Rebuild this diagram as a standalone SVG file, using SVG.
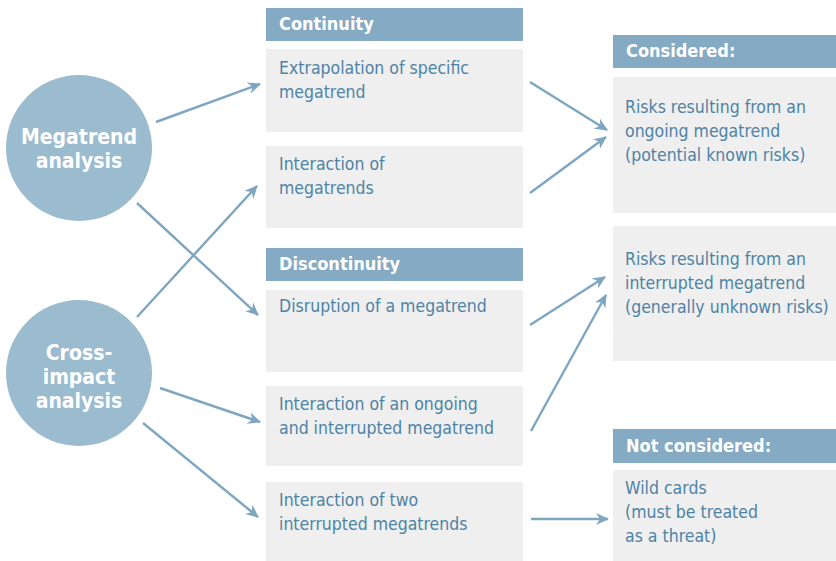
<svg xmlns="http://www.w3.org/2000/svg" width="836" height="561" viewBox="0 0 836 561">
<style>
.hdr{fill:#84aac4}
.box{fill:#efefef}
.circ{fill:#9bbbcf}
.ht{font-family:"DejaVu Sans Condensed","Liberation Sans Narrow","Roboto",sans-serif;font-weight:bold;font-size:18px;fill:#ffffff}
.bt{font-family:"DejaVu Sans Condensed","Liberation Sans Narrow","Roboto",sans-serif;font-size:17.5px;fill:#4d83a6}
.ct{font-family:"DejaVu Sans Condensed","Liberation Sans Narrow","Roboto",sans-serif;font-weight:bold;font-size:21px;fill:#ffffff;text-anchor:middle}
.arr{stroke:#7ea6c1;stroke-width:2.4;fill:none;marker-end:url(#ah)}
</style>
<defs>
<marker id="ah" markerWidth="14" markerHeight="12" refX="12" refY="6" orient="auto" markerUnits="userSpaceOnUse">
<path d="M0,0 L13,6 L0,12 L4,6 z" fill="#7ea6c1"/>
</marker>
</defs>
<g id="continuity-header"><rect class="hdr" x="266" y="8" width="257" height="33"/><text class="ht" x="279" y="30">Continuity</text></g>
<g id="extrapolation"><rect class="box" x="266" y="49" width="257" height="83"/><text class="bt" x="279" y="74">Extrapolation of specific</text><text class="bt" x="279" y="98">megatrend</text></g>
<g id="interaction-megatrends"><rect class="box" x="266" y="146" width="257" height="82"/><text class="bt" x="279" y="170">Interaction of</text><text class="bt" x="279" y="194">megatrends</text></g>
<g id="discontinuity-header"><rect class="hdr" x="266" y="248" width="257" height="33"/><text class="ht" x="279" y="270">Discontinuity</text></g>
<g id="disruption"><rect class="box" x="266" y="290" width="257" height="82"/><text class="bt" x="279" y="312">Disruption of a megatrend</text></g>
<g id="interaction-ongoing"><rect class="box" x="266" y="386" width="257" height="80"/><text class="bt" x="279" y="410">Interaction of an ongoing</text><text class="bt" x="279" y="434">and interrupted megatrend</text></g>
<g id="interaction-two"><rect class="box" x="266" y="482" width="257" height="79"/><text class="bt" x="279" y="506">Interaction of two</text><text class="bt" x="279" y="530">interrupted megatrends</text></g>
<g id="considered-header"><rect class="hdr" x="613" y="35" width="223" height="33"/><text class="ht" x="626" y="57">Considered:</text></g>
<g id="known-risks"><rect class="box" x="613" y="77" width="223" height="136"/><text class="bt" x="625" y="113">Risks resulting from an</text><text class="bt" x="625" y="137">ongoing megatrend</text><text class="bt" x="625" y="161">(potential known risks)</text></g>
<g id="unknown-risks"><rect class="box" x="613" y="226" width="223" height="135"/><text class="bt" x="625" y="265">Risks resulting from an</text><text class="bt" x="625" y="289">interrupted megatrend</text><text class="bt" x="625" y="313">(generally unknown risks)</text></g>
<g id="not-considered-header"><rect class="hdr" x="613" y="429" width="223" height="34"/><text class="ht" x="626" y="452">Not considered:</text></g>
<g id="wild-cards"><rect class="box" x="613" y="470" width="223" height="91"/><text class="bt" x="625" y="494">Wild cards</text><text class="bt" x="625" y="518">(must be treated</text><text class="bt" x="625" y="542">as a threat)</text></g>
<g id="megatrend-analysis"><circle class="circ" cx="79" cy="148" r="73"/><text class="ct" x="79" y="144">Megatrend</text><text class="ct" x="79" y="168">analysis</text></g>
<g id="cross-impact-analysis"><circle class="circ" cx="79" cy="373" r="73"/><text class="ct" x="79" y="360">Cross-</text><text class="ct" x="79" y="384">impact</text><text class="ct" x="79" y="408">analysis</text></g>
<g id="connectors">
<line class="arr" x1="156" y1="122" x2="260" y2="84"/>
<line class="arr" x1="137" y1="203" x2="258" y2="315"/>
<line class="arr" x1="137" y1="317" x2="257" y2="186"/>
<line class="arr" x1="160" y1="388" x2="260" y2="422"/>
<line class="arr" x1="143" y1="423" x2="258" y2="517"/>
<line class="arr" x1="530" y1="82" x2="607" y2="130"/>
<line class="arr" x1="530" y1="193" x2="606" y2="137"/>
<line class="arr" x1="530" y1="325" x2="605" y2="277"/>
<line class="arr" x1="531" y1="431" x2="606" y2="295"/>
<line class="arr" x1="531" y1="519" x2="608" y2="519"/>
</g>
</svg>
